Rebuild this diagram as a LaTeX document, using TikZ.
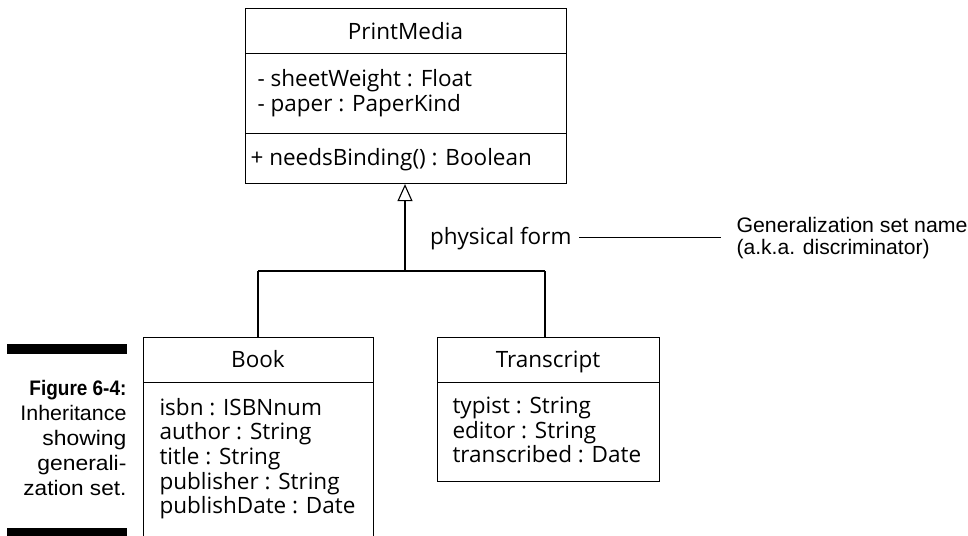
\documentclass[tikz,border=0pt]{standalone}
\usepackage{fontspec}
\usepackage{graphicx}
\setmainfont{Open Sans}
\newfontfamily\capfont{Liberation Sans}
\newfontfamily\capbold{Liberation Sans Bold}
\newcommand{\fitw}[2]{\resizebox{#1}{\height}{#2}}
\usetikzlibrary{arrows.meta}
\begin{document}
\begin{tikzpicture}[x=1pt,y=-1pt,line width=1.1pt,
  box/.style={draw,inner sep=0pt,anchor=north west},
  txt/.style={font=\fontsize{22.5}{25}\selectfont,inner sep=0pt,anchor=base},
  attr/.style={txt,anchor=base west},
  captxt/.style={font=\capfont\fontsize{21}{25}\selectfont,inner sep=0pt,anchor=base east},
  gen/.style={-{Triangle[open,length=17pt,width=15pt,fill=white]}}]
\useasboundingbox (0,0) rectangle (968,535);
% PrintMedia
\node[box,minimum width=321pt,minimum height=45pt] (pmT) at (245,8) {};
\node[box,minimum width=321pt,minimum height=80pt] (pmA) at (245,53) {};
\node[box,minimum width=321pt,minimum height=50pt] (pmO) at (245,133) {};
\node[txt] (pmTt) at (405.5,39.5) {PrintMedia};
\node[attr] (pmA1) at (257,86) {- sheetWeight : Float};
\node[attr] (pmA2) at (257,111) {- paper : PaperKind};
\node[attr] (pmO1) at (250,165.5) {+ needsBinding() : Boolean};
% Book
\node[box,minimum width=230pt,minimum height=45pt] (bkT) at (143,337) {};
\node[box,minimum width=230pt,minimum height=170pt] (bkA) at (143,382) {};
\node[txt] (bkTt) at (258,367.5) {Book};
\node[attr] (bk1) at (159,415) {isbn : ISBNnum};
\node[attr] (bk2) at (159,439.7) {author : String};
\node[attr] (bk3) at (159,464.4) {title : String};
\node[attr] (bk4) at (159,489.1) {publisher : String};
\node[attr] (bk5) at (159,513.8) {publishDate : Date};
% Transcript
\node[box,minimum width=222pt,minimum height=45pt] (trT) at (437,337) {};
\node[box,minimum width=222pt,minimum height=99pt] (trA) at (437,382) {};
\node[txt] (trTt) at (548,367.5) {Transcript};
\node[attr] (tr1) at (452,413.5) {typist : String};
\node[attr] (tr2) at (452,438.2) {editor : String};
\node[attr] (tr3) at (452,462.9) {transcribed : Date};
% generalization tree
\coordinate (join) at (405,271);
\coordinate (jl) at (258,271);
\coordinate (jr) at (545,271);
\draw[gen] (join) -- (join |- pmO.south);
\draw (jl) -- (jr);
\draw (jl) -- (jl |- bkT.north);
\draw (jr) -- (jr |- trT.north);
% annotation
\node[txt,anchor=base east] (pf) at (572,244) {physical form};
\node[captxt,anchor=base west] (gsn1) at (736,232) {\fitw{231pt}{Generalization set name}};
\node[captxt,anchor=base west] (gsn2) at (736,254) {\fitw{193pt}{(a.k.a. discriminator)}};
\coordinate (la) at (579,237);
\coordinate (lb) at (721,237);
\draw[line width=0.9pt] (la) -- (lb);
% caption
\fill (7,344) rectangle (127,354);
\fill (7,528) rectangle (127,540);
\node[captxt] (c1) at (127,395) {\fitw{97pt}{\capbold Figure 6-4:}};
\node[captxt] (c2) at (127,420) {\fitw{106pt}{Inheritance}};
\node[captxt] (c3) at (127,445) {\fitw{84pt}{showing}};
\node[captxt] (c4) at (127,470) {\fitw{89pt}{generali-}};
\node[captxt] (c5) at (127,495) {\fitw{103pt}{zation set.}};
\end{tikzpicture}
\end{document}
